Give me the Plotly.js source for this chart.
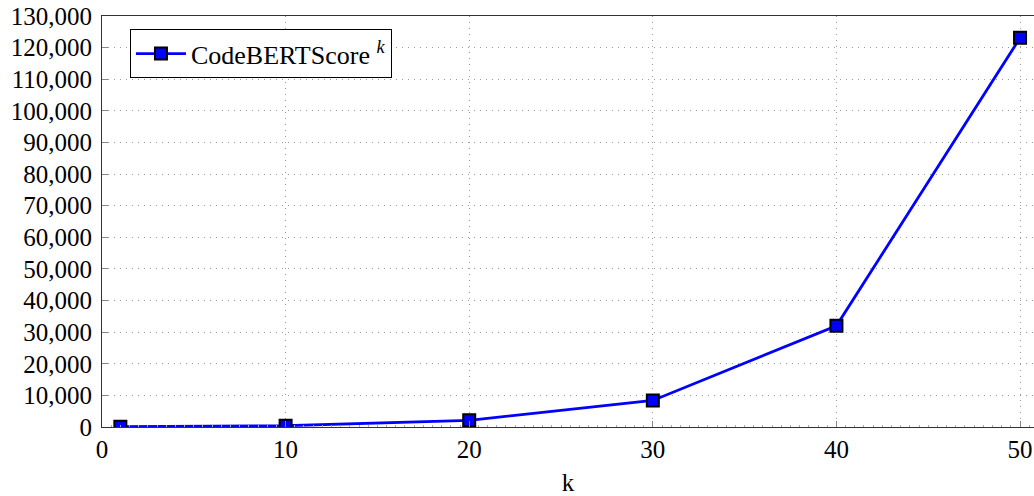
<!DOCTYPE html>
<html>
<head>
<meta charset="utf-8">
<script src="https://cdn.plot.ly/plotly-3.0.1.min.js"></script>
<style>
  html, body { margin: 0; padding: 0; background: #fff; }
  #chart { width: 1034px; height: 496px; }
</style>
</head>
<body>
<div id="chart"></div>
<script>
const kValues = [1, 10, 20, 30, 40, 50];
const scoreValues = [100, 400, 2100, 8400, 32000, 123100];
const seriesName = 'CodeBERTScore <i><sup>k</sup></i>';
const xTickVals = [0, 10, 20, 30, 40, 50];
const yTickVals = [0, 10000, 20000, 30000, 40000, 50000, 60000, 70000, 80000, 90000, 100000, 110000, 120000, 130000];

const fontFamily = 'Liberation Serif, DejaVu Serif, serif';

const trace = {
  x: kValues,
  y: scoreValues,
  name: seriesName,
  type: 'scatter',
  mode: 'lines+markers',
  line: { color: '#0000ff', width: 2.8 },
  marker: { symbol: 'square', size: 12, color: '#0000ff', line: { color: '#000000', width: 2 } },
  showlegend: true
};

const layout = {
  width: 1034,
  height: 496,
  margin: { l: 102, r: 0, t: 16, b: 69 },
  paper_bgcolor: '#ffffff',
  plot_bgcolor: '#ffffff',
  font: { family: fontFamily, size: 25, color: '#000' },
  showlegend: true,
  legend: {
    x: 0.03, y: 0.968, xanchor: 'left', yanchor: 'top',
    bgcolor: '#ffffff', bordercolor: '#000000', borderwidth: 1,
    itemwidth: 50,
    font: { family: fontFamily, size: 26, color: '#000' }
  },
  xaxis: {
    range: [0, 50.76],
    tickvals: xTickVals,
    ticktext: xTickVals.map(String),
    ticks: 'inside', ticklen: 6, tickcolor: '#888', tickwidth: 1,
    showline: true, linecolor: '#333', linewidth: 1, mirror: true,
    showgrid: true, gridcolor: '#9a9a9a', griddash: '1px,5px', gridwidth: 1,
    zeroline: false,
    tickfont: { family: fontFamily, size: 25 },
    minor: { dtick: 0.5, ticks: 'inside', ticklen: 2, tickcolor: '#aaa', showgrid: false },
    title: { text: 'k', font: { family: fontFamily, size: 25 }, standoff: 24 }
  },
  yaxis: {
    range: [0, 130000],
    tickvals: yTickVals,
    tickformat: ',d',
    ticks: 'inside', ticklen: 6, tickcolor: '#888', tickwidth: 1,
    showline: true, linecolor: '#333', linewidth: 1, mirror: false,
    showgrid: true, gridcolor: '#9a9a9a', griddash: '1px,5px', gridwidth: 1,
    zeroline: false,
    tickfont: { family: fontFamily, size: 25 },
    ticklabelstandoff: 4
  }
};

Plotly.newPlot('chart', [trace], layout, { staticPlot: true, displayModeBar: false });
</script>
</body>
</html>
